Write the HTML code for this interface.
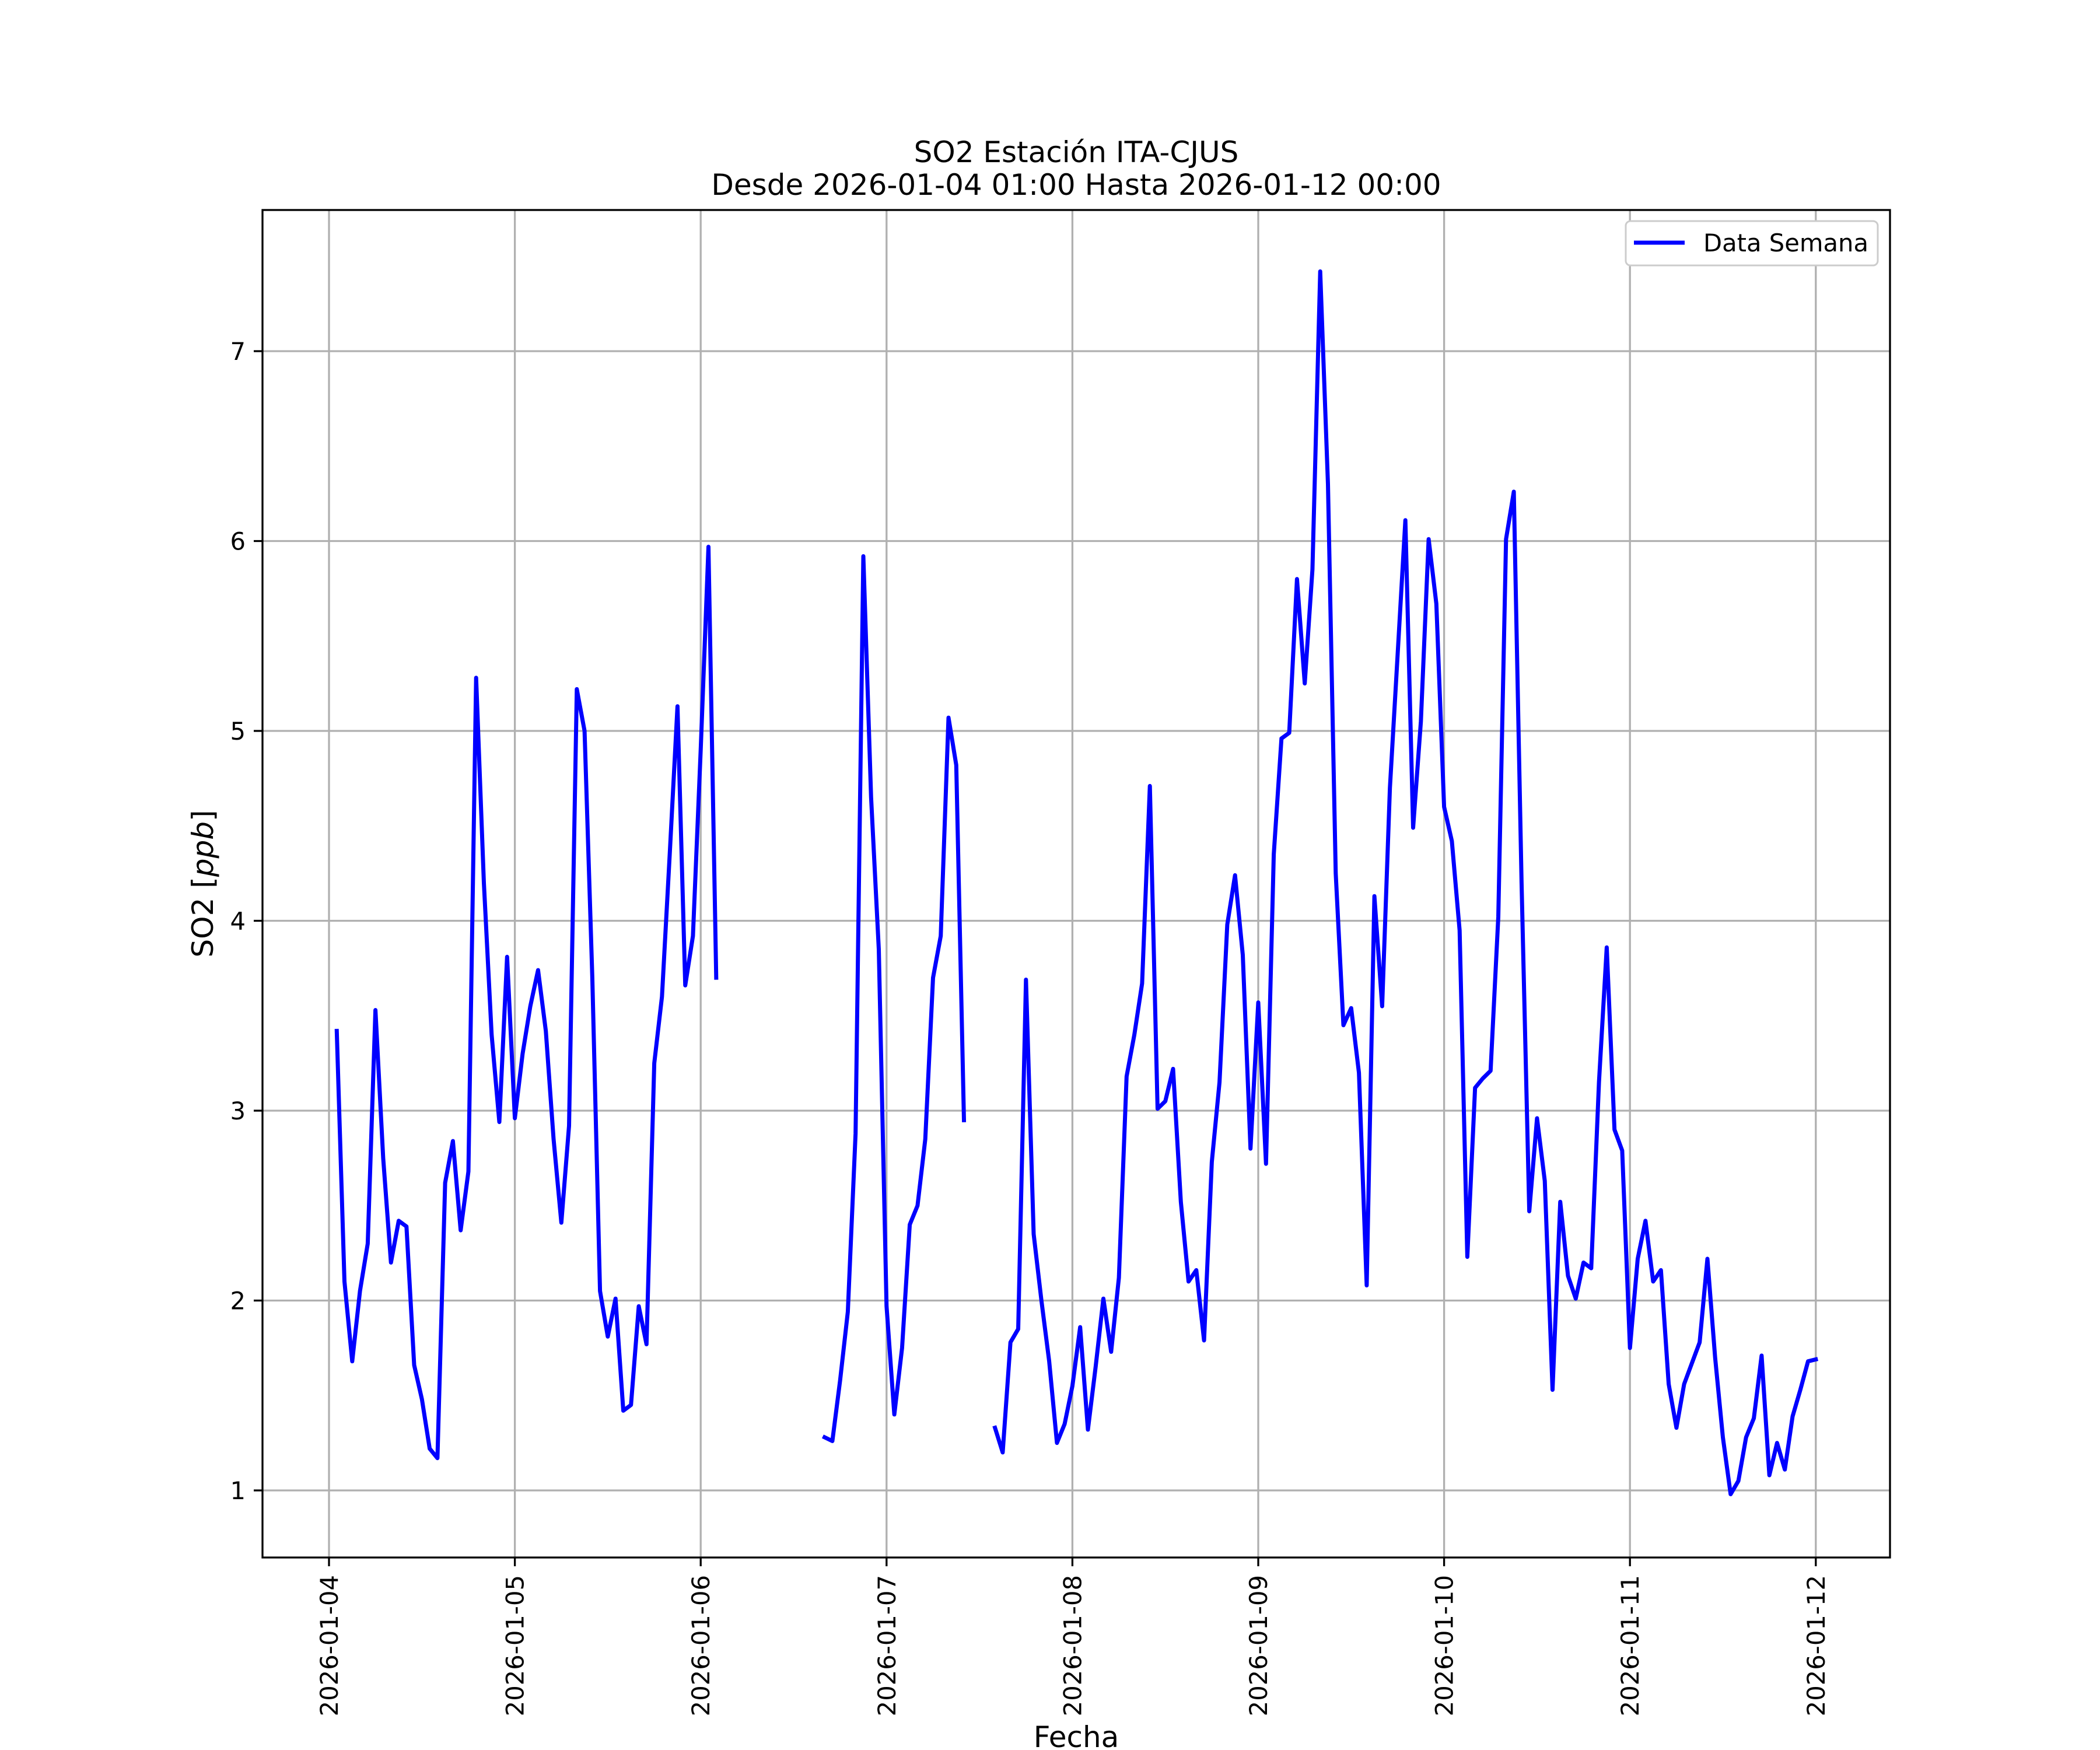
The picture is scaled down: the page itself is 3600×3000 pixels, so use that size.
<!DOCTYPE html>
<html><head><meta charset="utf-8"><style>
html,body{margin:0;padding:0;background:#fff;}
svg{display:block;font-family:"DejaVu Sans","Liberation Sans",sans-serif;}
</style></head><body>
<svg id="chart" width="3600" height="3000" viewBox="0 0 3600 3000" xmlns="http://www.w3.org/2000/svg">
<rect width="3600" height="3000" fill="#fff"/>
<g id="grid"></g>
<g id="series"></g>
<rect x="450" y="360" width="2790" height="2310" fill="none" stroke="#000" stroke-width="3.3"/>
<g id="ticks"></g>
<text x="1845" y="278" font-size="50" text-anchor="middle">SO2 Estación ITA-CJUS</text>
<text x="1845" y="334" font-size="50" text-anchor="middle">Desde 2026-01-04 01:00 Hasta 2026-01-12 00:00</text>
<text x="1845" y="2995" font-size="50" text-anchor="middle">Fecha</text>
<text transform="translate(365,1515) rotate(-90)" font-size="50" text-anchor="middle">SO2 [<tspan font-style="italic">ppb</tspan>]</text>
<g>
<rect x="2787" y="379" width="432" height="76" rx="8" fill="#fff" stroke="#ccc" stroke-width="3"/>
<line x1="2801" y1="416" x2="2888" y2="416" stroke="#0000ff" stroke-width="7"/>
<text x="2920" y="431" font-size="41.7">Data Semana</text>
</g>
</svg>
<script>
const xTickLabels = ["2026-01-04","2026-01-05","2026-01-06","2026-01-07","2026-01-08","2026-01-09","2026-01-10","2026-01-11","2026-01-12"];
const yTickValues = [1,2,3,4,5,6,7];
// hourly values starting 2026-01-04 01:00 (hour index 1); null = missing
const so2Values = [
3.42,2.1,1.68,2.05,2.3,3.53,2.75,2.2,2.42,2.39,1.66,1.48,1.22,1.17,2.62,2.84,2.37,2.68,5.28,4.2,3.4,2.94,3.81,2.96,
3.3,3.55,3.74,3.42,2.85,2.41,2.92,5.22,5.0,3.7,2.05,1.81,2.01,1.42,1.45,1.97,1.77,3.25,3.6,4.35,5.13,3.66,3.92,4.9,
5.97,3.7,null,null,null,null,null,null,null,null,null,null,null,null,null,1.28,1.26,1.58,1.94,2.88,5.92,4.65,3.85,1.97,
1.4,1.75,2.4,2.5,2.85,3.7,3.92,5.07,4.82,2.95,null,null,null,1.33,1.2,1.78,1.85,3.69,2.35,2.0,1.68,1.25,1.35,1.55,
1.86,1.32,1.65,2.01,1.73,2.12,3.18,3.4,3.67,4.71,3.01,3.05,3.22,2.52,2.1,2.16,1.79,2.73,3.15,3.98,4.24,3.82,2.8,3.57,
2.72,4.35,4.96,4.99,5.8,5.25,5.85,7.42,6.3,4.25,3.45,3.54,3.2,2.08,4.13,3.55,4.7,5.4,6.11,4.49,5.05,6.01,5.67,4.6,
4.42,3.95,2.23,3.12,3.17,3.21,4.02,6.01,6.26,4.2,2.47,2.96,2.63,1.53,2.52,2.13,2.01,2.2,2.17,3.15,3.86,2.9,2.79,1.75,
2.22,2.42,2.1,2.16,1.56,1.33,1.56,1.67,1.78,2.22,1.7,1.28,0.98,1.05,1.28,1.38,1.71,1.08,1.25,1.11,1.39,1.53,1.68,1.69
];
const NS="http://www.w3.org/2000/svg";
function xScale(days){return 564 + days*318.6;}
function yScale(v){return 602 + (7-v)*325.5;}
const grid=document.getElementById('grid'), ticks=document.getElementById('ticks'), series=document.getElementById('series');
function mk(tag,attrs,parent){const e=document.createElementNS(NS,tag);for(const k in attrs)e.setAttribute(k,attrs[k]);parent.appendChild(e);return e;}
xTickLabels.forEach((lab,i)=>{
  const x=xScale(i);
  const g=mk('line',{x1:x,y1:360,x2:x,y2:2670,stroke:'#b0b0b0','stroke-width':3.3},grid);
  
  
  const t=mk('line',{x1:x,y1:2670,x2:x,y2:2685,stroke:'#000','stroke-width':3.3},ticks);
  
  
  const tx=mk('text',{transform:`translate(${x+15},2700) rotate(-90)`,'font-size':41.7,'text-anchor':'end'},ticks);
  tx.textContent=lab;
  
  
});
yTickValues.forEach(v=>{
  const y=yScale(v);
  const g=mk('line',{x1:450,y1:y,x2:3240,y2:y,stroke:'#b0b0b0','stroke-width':3.3},grid);
  
  
  const t=mk('line',{x1:435,y1:y,x2:450,y2:y,stroke:'#000','stroke-width':3.3},ticks);
  
  
  const tx=mk('text',{x:421,y:y+15,'font-size':41.7,'text-anchor':'end'},ticks);
  tx.textContent=String(v);
  
  
});
let d='', pen=false;
so2Values.forEach((v,i)=>{
  if(v===null){pen=false;return;}
  const x=xScale((i+1)/24), y=yScale(v);
  d+=(pen?'L':'M')+x.toFixed(1)+' '+y.toFixed(1)+' ';
  pen=true;
});
const p=mk('path',{d:d,fill:'none',stroke:'#0000ff','stroke-width':7,'stroke-linejoin':'round','stroke-linecap':'square'},series);


</script>
</body></html>
